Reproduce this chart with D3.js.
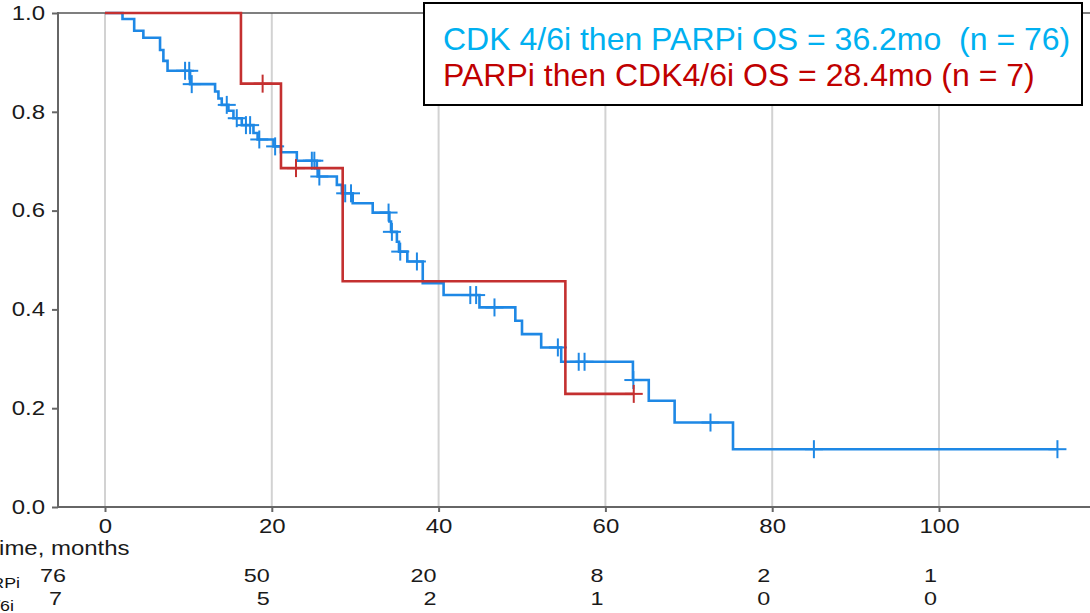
<!DOCTYPE html>
<html>
<head>
<meta charset="utf-8">
<script src="https://cdnjs.cloudflare.com/ajax/libs/d3/7.8.5/d3.min.js"></script>
<style>
  body { margin: 0; background: #fff; }
  svg { display: block; font-family: "Liberation Sans", Arial, sans-serif; }
</style>
</head>
<body>
<script>
// tick values
var timeTicks = [0, 20, 40, 60, 80, 100];
var survTicks = [0, 0.2, 0.4, 0.6, 0.8, 1.0];

// CDK 4/6i then PARPi (n = 76) - step times and survival after each step
var blueTimes = [0, 2.1, 3.5, 4.6, 6.6, 7.0, 7.5, 10.2, 13.2, 13.6, 14.0, 14.8, 15.4, 16.4, 17.8, 18.3,
                 20.2, 21.1, 23.0, 25.4, 25.5, 27.8, 28.4, 29.7, 32.1, 34.1, 34.3, 35.0, 35.25, 36.25,
                 38.1, 40.6, 44.9, 49.2, 50.0, 52.3, 54.7, 63.3, 65.2, 68.3, 75.3];
var blueSurv  = [1, 0.988, 0.964, 0.950, 0.925, 0.903, 0.883, 0.856, 0.841, 0.827, 0.814, 0.802, 0.787, 0.773, 0.757, 0.744,
                 0.730, 0.718, 0.701, 0.685, 0.669, 0.652, 0.635, 0.615, 0.596, 0.578, 0.557, 0.537, 0.517, 0.497,
                 0.453, 0.429, 0.404, 0.377, 0.350, 0.323, 0.294, 0.257, 0.215, 0.171, 0.117];
var blueCensor = [9.6, 10.1, 10.4, 14.6, 15.8, 16.9, 17.4, 18.5, 20.4, 24.8, 25.1, 25.7, 28.8, 29.5,
                  34.0, 34.4, 35.4, 37.4, 43.8, 44.5, 46.7, 54.3, 56.8, 57.5, 63.35, 72.6, 85.0, 114.2];
var blueEnd = 114.2;

// PARPi then CDK4/6i (n = 7)
var redTimes = [0, 16.3, 21.1, 28.5, 55.2];
var redSurv  = [1, 0.857, 0.686, 0.457, 0.229];
var redCensor = [18.9, 22.9, 63.4];
var redEnd = 63.4;

// number at risk
var riskBlue = [76, 50, 20, 8, 2, 1];
var riskRed  = [7, 5, 2, 1, 0, 0];
var groupNames = ["CDK 4/6i then PARPi", "PARPi then CDK4/6i"];
var legendLines = ["CDK 4/6i then PARPi OS = 36.2mo  (n = 76)", "PARPi then CDK4/6i OS = 28.4mo (n = 7)"];

var w = 1090;
var h = 613;
var plotL = 58, plotR = 1090, plotT = 13, plotB = 507;
var sx = 1.23;   // the plot text is a bit stretched sideways
var blueColor = "#1e88e5", redColor = "#c43030";

var svg = d3.select("body")
      .append("svg")
      .attr("width", w)
      .attr("height", h);

var x = d3.scaleLinear().domain([0, 100]).range([105, 939]);
var y = d3.scaleLinear().domain([0, 1]).range([plotB, plotT]);

// vertical grid
svg.selectAll("line.grid")
   .data(timeTicks)
   .enter()
   .append("line")
   .attr("class", "grid")
   .attr("x1", function(d) { return x(d); })
   .attr("x2", function(d) { return x(d); })
   .attr("y1", plotT)
   .attr("y2", plotB)
   .attr("stroke", "#d2d2d2")
   .attr("stroke-width", 2);

// axes
var xAxis = svg.append("g")
      .attr("transform", "translate(0," + plotB + ")")
      .call(d3.axisBottom(x).tickValues(timeTicks).tickSize(5).tickPadding(7.5).tickSizeOuter(0));
var yAxis = svg.append("g")
      .attr("transform", "translate(" + plotL + ",0)")
      .call(d3.axisLeft(y).tickValues(survTicks).tickFormat(d3.format(".1f")).tickSize(6).tickPadding(7).tickSizeOuter(0));

svg.selectAll(".domain").remove();
svg.selectAll(".tick line").attr("stroke", "#666").attr("stroke-width", 2);
xAxis.selectAll("text")
     .attr("font-size", "19.5px")
     .attr("fill", "#1a1a1a")
     .attr("transform", "scale(" + sx + ",1)");
yAxis.selectAll("text")
     .attr("font-size", "19.5px")
     .attr("fill", "#1a1a1a")
     .attr("x", -13 / sx)
     .attr("transform", "scale(" + sx + ",1)");

// frame lines
svg.append("line").attr("x1", plotL).attr("x2", plotR).attr("y1", plotB).attr("y2", plotB)
   .attr("stroke", "#666").attr("stroke-width", 2);
svg.append("line").attr("x1", plotL).attr("x2", plotR).attr("y1", plotT).attr("y2", plotT)
   .attr("stroke", "#555").attr("stroke-width", 1.5);
svg.append("line").attr("x1", plotL).attr("x2", plotL).attr("y1", plotT - 1).attr("y2", plotB + 1)
   .attr("stroke", "#666").attr("stroke-width", 2);

// step curves
function stepPoints(times, surv, end) {
  var pts = [];
  for (var i = 0; i < times.length; i++) {
    pts.push([times[i], surv[i]]);
  }
  pts.push([end, surv[surv.length - 1]]);
  return pts;
}
function survAt(times, surv, t) {
  return surv[d3.bisectRight(times, t) - 1];
}

var line = d3.line()
      .x(function(d) { return x(d[0]); })
      .y(function(d) { return y(d[1]); })
      .curve(d3.curveStepAfter);

function drawCurve(times, surv, censor, end, color) {
  svg.append("path")
     .datum(stepPoints(times, surv, end))
     .attr("d", line)
     .attr("fill", "none")
     .attr("stroke", color)
     .attr("stroke-width", 2.6);

  var g = svg.append("g");
  var marks = g.selectAll("g")
     .data(censor)
     .enter()
     .append("g")
     .attr("transform", function(d) {
        return "translate(" + x(d) + "," + y(survAt(times, surv, d)) + ")";
     });
  marks.append("line").attr("x1", -9).attr("x2", 9).attr("y1", 0).attr("y2", 0)
       .attr("stroke", color).attr("stroke-width", 2);
  marks.append("line").attr("x1", 0).attr("x2", 0).attr("y1", -9).attr("y2", 9)
       .attr("stroke", color).attr("stroke-width", 2);
}

drawCurve(blueTimes, blueSurv, blueCensor, blueEnd, blueColor);
drawCurve(redTimes, redSurv, redCensor, redEnd, redColor);

// x axis title (partly cut off at the left edge)
svg.append("text")
   .text("Time, months")
   .attr("transform", "translate(-14.7,555) scale(" + sx + ",1)")
   .attr("font-size", "19.5px")
   .attr("fill", "#1a1a1a");

// number at risk table
var riskRows = [riskBlue, riskRed];
var rowBase = [582, 605];
var labelEnd = [20, 14];

riskRows.forEach(function(row, r) {
  svg.selectAll("text.risk" + r)
     .data(row)
     .enter()
     .append("text")
     .attr("class", "risk" + r)
     .text(function(d) { return d; })
     .attr("text-anchor", "end")
     .attr("transform", function(d, i) {
        var t = timeTicks[i];
        var px = t === 0 ? 66 - r * 4 : x(t) - 2;
        return "translate(" + px + "," + rowBase[r] + ") scale(" + sx + ",1)";
     })
     .attr("font-size", "19px")
     .attr("fill", "#1a1a1a");

  svg.append("text")
     .text(groupNames[r])
     .attr("text-anchor", "end")
     .attr("transform", "translate(" + labelEnd[r] + "," + (rowBase[r] + 6) + ") scale(" + sx + ",1)")
     .attr("font-size", "14.5px")
     .attr("fill", "#111");
});

// legend box
svg.append("rect")
   .attr("x", 424)
   .attr("y", 3)
   .attr("width", 658)
   .attr("height", 102)
   .attr("fill", "#fff")
   .attr("stroke", "#000")
   .attr("stroke-width", 2);

svg.selectAll("text.legend")
   .data(legendLines)
   .enter()
   .append("text")
   .attr("class", "legend")
   .text(function(d) { return d; })
   .attr("x", 443)
   .attr("y", function(d, i) { return 50 + i * 36; })
   .attr("font-size", "32px")
   .style("white-space", "pre")
   .attr("fill", function(d, i) { return i === 0 ? "#00b0f0" : "#c00000"; });
</script>
</body>
</html>
